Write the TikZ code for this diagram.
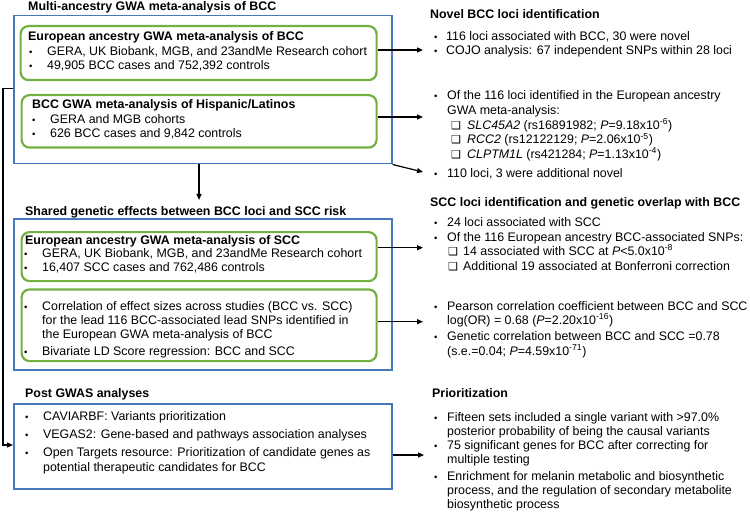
\documentclass[tikz,border=0pt]{standalone}
\usepackage{fontspec}
\setmainfont{Liberation Sans}
\newfontfamily\symf{DejaVu Sans}
\usetikzlibrary{arrows.meta}
\definecolor{bxblue}{RGB}{70,120,190}
\definecolor{bxgreen}{RGB}{114,176,67}
\newcommand{\chk}{{\symf\fontsize{11}{12}\selectfont ❑}}
\begin{document}
\begin{tikzpicture}[x=1pt,y=-1pt,
  txt/.style={anchor=base west, inner sep=0pt, font=\fontsize{12.4}{15}\selectfont},
  ttl/.style={anchor=base west, inner sep=0pt, font=\fontsize{12.4}{15}\selectfont\bfseries},
  bul/.style={anchor=base west, inner sep=0pt, font=\fontsize{9.5}{15}\selectfont},
  bluebox/.style={draw=bxblue, line width=1.5pt, anchor=north west, inner sep=0pt},
  greenbox/.style={draw=bxgreen, line width=2.2pt, rounded corners=8pt, anchor=north west, inner sep=0pt},
  arr/.style={-{Triangle[length=6pt,width=5pt]}, line width=1.2pt},
  ln/.style={line width=1.2pt}]
\useasboundingbox (0,0) rectangle (750,516);
% ---------- left column boxes ----------
\node[bluebox, minimum width=378pt, minimum height=148pt] (b1) at (13,15) {};
\node[greenbox, minimum width=356pt, minimum height=54pt] (g1) at (19.5,25) {};
\node[greenbox, minimum width=355pt, minimum height=52.5pt] (g2) at (20.5,94) {};
\node[bluebox, minimum width=378pt, minimum height=151pt] (b2) at (13,218.3) {};
\node[greenbox, minimum width=355pt, minimum height=49pt] (g3) at (20.5,231) {};
\node[greenbox, minimum width=355pt, minimum height=71.7pt] (g4) at (20.5,288.3) {};
\node[bluebox, minimum width=378pt, minimum height=85pt] (b3) at (13,403.3) {};
% ---------- box 1 ----------
\node[ttl] (t1) at (28,11) {Multi-ancestry GWA meta-analysis of BCC};
\node[ttl] (t1a) at (28,40.7) {European ancestry GWA meta-analysis of BCC};
\node[bul] (u1) at (29,55.7) {•};
\node[txt] (l1) at (47,55.7) {GERA, UK Biobank, MGB, and 23andMe Research cohort};
\node[bul] (u2) at (29,70) {•};
\node[txt] (l2) at (47,70) {49,905 BCC cases and 752,392 controls};
\node[ttl] (t1b) at (32,109) {BCC GWA meta-analysis of Hispanic/Latinos};
\node[bul] (u3) at (32,124) {•};
\node[txt] (l3) at (50,124) {GERA and MGB cohorts};
\node[bul] (u4) at (32,138) {•};
\node[txt] (l4) at (50,138) {626 BCC cases and 9,842 controls};
% ---------- box 2 ----------
\node[ttl] (t2) at (25,215) {Shared genetic effects between BCC loci and SCC risk};
\node[ttl] (t2a) at (25,244) {European ancestry GWA meta-analysis of SCC};
\node[bul] (u5) at (24,257.5) {•};
\node[txt] (l5) at (42,257.5) {GERA, UK Biobank, MGB, and 23andMe Research cohort};
\node[bul] (u6) at (24,271) {•};
\node[txt] (l6) at (42,271) {16,407 SCC cases and 762,486 controls};
\node[bul] (u7) at (24,310) {•};
\node[txt] (l7) at (42,310) {Correlation of effect sizes across studies (BCC vs. SCC)};
\node[txt] (l8) at (42,324) {for the lead 116 BCC-associated lead SNPs identified in};
\node[txt] (l9) at (42,338.3) {the European GWA meta-analysis of BCC};
\node[bul] (u8) at (24,355) {•};
\node[txt] (l10) at (42,355) {Bivariate LD Score regression: BCC and SCC};
% ---------- box 3 ----------
\node[ttl] (t3) at (25,397.3) {Post GWAS analyses};
\node[bul] (u9) at (25,420) {•};
\node[txt] (l11) at (43,420) {CAVIARBF: Variants prioritization};
\node[bul] (u10) at (25,438.3) {•};
\node[txt] (l12) at (43,438.3) {VEGAS2: Gene-based and pathways association analyses};
\node[bul] (u11) at (25,456.7) {•};
\node[txt] (l13) at (43,456.7) {Open Targets resource: Prioritization of candidate genes as};
\node[txt] (l14) at (43,471.7) {potential therapeutic candidates for BCC};
% ---------- right column ----------
\node[ttl] (r1) at (430,19) {Novel BCC loci identification};
\node[bul] (v1) at (434,40.7) {•};
\node[txt] (r2) at (446,40.7) {116 loci associated with BCC, 30 were novel};
\node[bul] (v2) at (434,54.3) {•};
\node[txt] (r3) at (446,54.3) {COJO analysis: 67 independent SNPs within 28 loci};
\node[bul] (v3) at (434,99.3) {•};
\node[txt] (r4) at (447,99.3) {Of the 116 loci identified in the European ancestry};
\node[txt] (r5) at (447,114.3) {GWA meta-analysis:};
\node[txt] (c1) at (451,129.3) {\chk};
\node[txt] (r6) at (467,129.3) {\textit{SLC45A2} (rs16891982; \textit{P}=9.18x10\textsuperscript{-6})};
\node[txt] (c2) at (451,143.6) {\chk};
\node[txt] (r7) at (467,143.6) {\textit{RCC2} (rs12122129; \textit{P}=2.06x10\textsuperscript{-5})};
\node[txt] (c3) at (451,158.3) {\chk};
\node[txt] (r8) at (467,158.3) {\textit{CLPTM1L} (rs421284; \textit{P}=1.13x10\textsuperscript{-4})};
\node[bul] (v4) at (434,177.5) {•};
\node[txt] (r9) at (447,177.5) {110 loci, 3 were additional novel};
\node[ttl] (r10) at (430,206.7) {SCC loci identification and genetic overlap with BCC};
\node[bul] (v5) at (434,226.7) {•};
\node[txt] (r11) at (447,226.7) {24 loci associated with SCC};
\node[bul] (v6) at (434,241) {•};
\node[txt] (r12) at (447,241) {Of the 116 European ancestry BCC-associated SNPs:};
\node[txt] (c4) at (448,255) {\chk};
\node[txt] (r13) at (463,255) {14 associated with SCC at \textit{P}<5.0x10\textsuperscript{-8}};
\node[txt] (c5) at (448,270) {\chk};
\node[txt] (r14) at (463,270) {Additional 19 associated at Bonferroni correction};
\node[bul] (v7) at (434,310) {•};
\node[txt] (r15) at (447,310) {Pearson correlation coefficient between BCC and SCC};
\node[txt] (r16) at (447,324) {log(OR) = 0.68 (\textit{P}=2.20x10\textsuperscript{-16})};
\node[bul] (v8) at (434,340) {•};
\node[txt] (r17) at (447,340) {Genetic correlation between BCC and SCC =0.78};
\node[txt] (r18) at (447,355) {(s.e.=0.04; \textit{P}=4.59x10\textsuperscript{-71})};
\node[ttl] (r19) at (432,397.7) {Prioritization};
\node[bul] (v9) at (434,421) {•};
\node[txt] (r20) at (447,421) {Fifteen sets included a single variant with >97.0\%};
\node[txt] (r21) at (447,435) {posterior probability of being the causal variants};
\node[bul] (v10) at (434,449.3) {•};
\node[txt] (r22) at (447,449.3) {75 significant genes for BCC after correcting for};
\node[txt] (r23) at (447,463.3) {multiple testing};
\node[bul] (v11) at (434,480) {•};
\node[txt] (r24) at (447,480) {Enrichment for melanin metabolic and biosynthetic};
\node[txt] (r25) at (447,494.3) {process, and the regulation of secondary metabolite};
\node[txt] (r26) at (447,508.3) {biosynthetic process};
% ---------- connectors ----------
\coordinate (e1) at (423,50);
\coordinate (e2) at (423,117);
\coordinate (e3) at (423,172);
\coordinate (e4) at (423,247.7);
\coordinate (e5) at (423,321.7);
\coordinate (e6) at (424,455);
\coordinate (d1) at (199,200);
\coordinate (k1) at (3,88.3);
\coordinate (k2) at (3,445);
\draw[arr] (g1.east |- e1) -- (e1);
\draw[arr] (g2.east |- e2) -- (e2);
\draw[arr] (b1.south east) -- (e3);
\draw[arr] (g3.east |- e4) -- (e4);
\draw[arr] (g4.east |- e5) -- (e5);
\draw[arr] (b3.east |- e6) -- (e6);
\draw[arr] (b1.south -| d1) -- (d1);
\draw[arr] (b1.west |- k1) -- (k1) -- (k2) -- (b3.west |- k2);
\end{tikzpicture}
\end{document}
